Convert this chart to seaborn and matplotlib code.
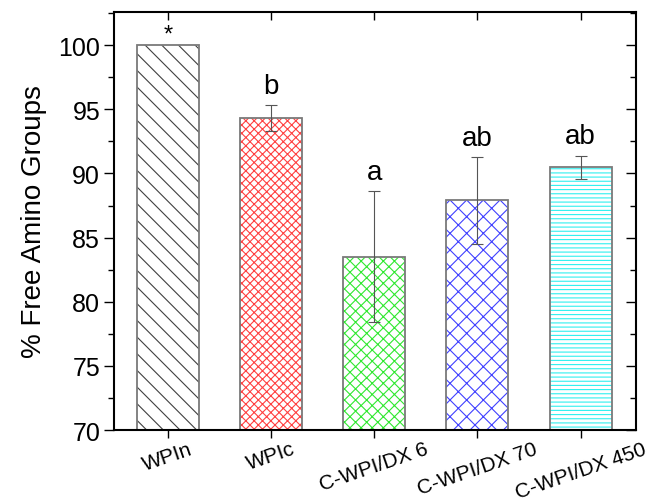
import numpy as np
import pandas as pd
import matplotlib
import matplotlib.pyplot as plt
import seaborn as sns
from matplotlib.ticker import MultipleLocator

# data
samples = ["WPIn", "WPIc", "C-WPI/DX 6", "C-WPI/DX 70", "C-WPI/DX 450"]
free_amino = [100.0, 94.3, 83.5, 87.9, 90.5]
err = [0.0, 1.0, 5.1, 3.4, 0.9]
letters = ["*", "b", "a", "ab", "ab"]

hatch_colors = ["#404040", "#ff4040", "#30e830", "#4040ff", "#30f0f0"]
hatches = ["\\\\", "xxxx", "xxx", "xx", "----"]

data = pd.DataFrame({"Sample": samples, "Free": free_amino, "Err": err})

sns.set_style("ticks")
plt.rcParams["font.family"] = ["Liberation Sans", "DejaVu Sans"]
plt.rcParams["hatch.linewidth"] = 0.8
plt.rcParams["text.color"] = "black"
plt.rcParams["xtick.color"] = "black"
plt.rcParams["ytick.color"] = "black"
plt.rcParams["axes.labelcolor"] = "black"

f = plt.figure(figsize=(6.67, 5.02), dpi=100)
ax = f.add_axes([0.171, 0.1414, 0.783, 0.833])

# hatched fill (hatch colour follows edgecolor)
sns.barplot(x="Sample", y="Free", data=data, errorbar=None, width=0.6,
            color="white", linewidth=0, ax=ax)
for p, h, c in zip(ax.patches, hatches, hatch_colors):
    p.set_hatch(h)
    p.set_edgecolor(c)
    p.set_facecolor("white")

# grey outlines on top
n_fill = len(ax.patches)
sns.barplot(x="Sample", y="Free", data=data, errorbar=None, width=0.6,
            fill=False, linewidth=1.3, ax=ax)
for p in ax.patches[n_fill:]:
    p.set_edgecolor("#7a7a7a")
    p.set_hatch(None)

xs = np.arange(len(samples))
mask = data["Err"] > 0
ax.errorbar(xs[mask], data["Free"][mask], yerr=data["Err"][mask], fmt="none",
            ecolor="#555555", elinewidth=0.8, capsize=4, capthick=0.8)

for x, v, e, t in zip(xs, free_amino, err, letters):
    if t == "*":
        ax.text(x, v - 0.05, t, ha="center", va="bottom", fontsize=17)
    else:
        ax.text(x, v + e + 0.95, t, ha="center", va="baseline", fontsize=20)

ax.set_ylim(70, 102.6)
ax.set_xlim(-0.52, 4.54)
ax.yaxis.set_major_locator(MultipleLocator(5))
ax.yaxis.set_minor_locator(MultipleLocator(2.5))
ax.set_ylabel("% Free Amino Groups", fontsize=20, labelpad=8)
ax.set_xlabel("")

for s in ax.spines.values():
    s.set_linewidth(1.5)
    s.set_visible(True)
    s.set_color("black")

ax.tick_params(axis="y", which="major", length=7, width=1.0, labelsize=18,
               right=True, direction="out", pad=3)
ax.tick_params(axis="y", which="minor", length=4, width=1.0, right=True)
ax.tick_params(axis="x", which="major", length=6, width=1.0, labelsize=15,
               top=True, pad=0.5)
plt.setp(ax.get_xticklabels(), rotation=19, ha="center")

# ticks on top/right point inwards
for t in ax.yaxis.get_major_ticks() + ax.yaxis.get_minor_ticks():
    t.tick2line.set_marker(matplotlib.lines.TICKLEFT)
for t in ax.xaxis.get_major_ticks():
    t.tick2line.set_marker(matplotlib.lines.TICKDOWN)

f.savefig("out.png", dpi=100)
